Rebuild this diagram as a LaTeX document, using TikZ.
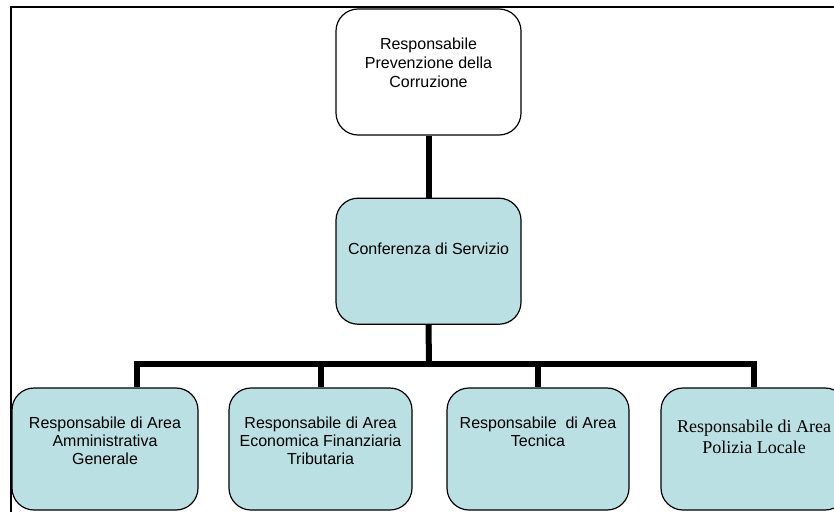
\documentclass[tikz,border=0pt]{standalone}
\usepackage{fontspec}
\setmainfont{Liberation Sans}
\newfontfamily\timesfont{Liberation Serif}
\usetikzlibrary{positioning}
\definecolor{boxfill}{RGB}{187,224,227}
\tikzset{
  orgbox/.style={draw=black, line width=1.2pt, rounded corners=22pt,
    minimum width=185pt, minimum height=126pt, inner sep=0pt},
  areabox/.style={orgbox, fill=boxfill, minimum height=122pt},
  orgtext/.style={align=center, inner sep=0pt, anchor=north,
    font=\fontsize{16}{18}\selectfont},
  link/.style={line width=6pt},
  frameline/.style={line width=2.5pt},
}

\begin{document}
\begin{tikzpicture}[x=1pt,y=-1pt]
	\path[use as bounding box, clip] (0,0) rectangle (834,511);
	% frame
	\draw[frameline] (840,7) -| (11,520);
	% boxes
	\node[orgbox, fill=white] (rpc) at (428.5,72) {};
	\node[orgbox, fill=boxfill, below=62pt of rpc] (conf) {};
	\node[areabox, minimum width=186pt] (amm) at (105,449) {};
	\node[areabox, minimum width=183pt] (eco) at (320.5,449) {};
	\node[areabox, minimum width=182pt] (tec) at (538,449) {};
	\node[areabox, minimum width=186pt] (pol) at (754,449) {};
	% texts
	\node[orgtext, font=\fontsize{16}{19}\selectfont] (rpc-t) at ([yshift=-29pt]rpc.north) {Responsabile\\Prevenzione della\\Corruzione};
	\node[orgtext] (conf-t) at ([yshift=-45pt]conf.north) {Conferenza di Servizio};
	\node[orgtext] (amm-t) at ([yshift=-29pt]amm.north) {Responsabile di Area\\Amministrativa\\Generale};
	\node[orgtext] (eco-t) at ([yshift=-29pt]eco.north) {Responsabile di Area\\Economica Finanziaria\\Tributaria};
	\node[orgtext] (tec-t) at ([yshift=-29pt]tec.north) {Responsabile\ \ di Area\\Tecnica};
	\node[orgtext, font=\timesfont\fontsize{18}{21}\selectfont] (pol-t) at ([yshift=-32pt]pol.north) {Responsabile di Area\\Polizia Locale};
	% connectors
	\coordinate (bus) at (429,364);
	\draw[link] (rpc.south) -- (conf.north);
	\draw[link] (conf.south) -- (bus);
	\draw[link] (bus) -| ([xshift=32pt]amm.north);
	\draw[link] (bus) -| (eco.north);
	\draw[link] (bus) -| (tec.north);
	\draw[link] (bus) -| (pol.north);
\end{tikzpicture}
\end{document}
